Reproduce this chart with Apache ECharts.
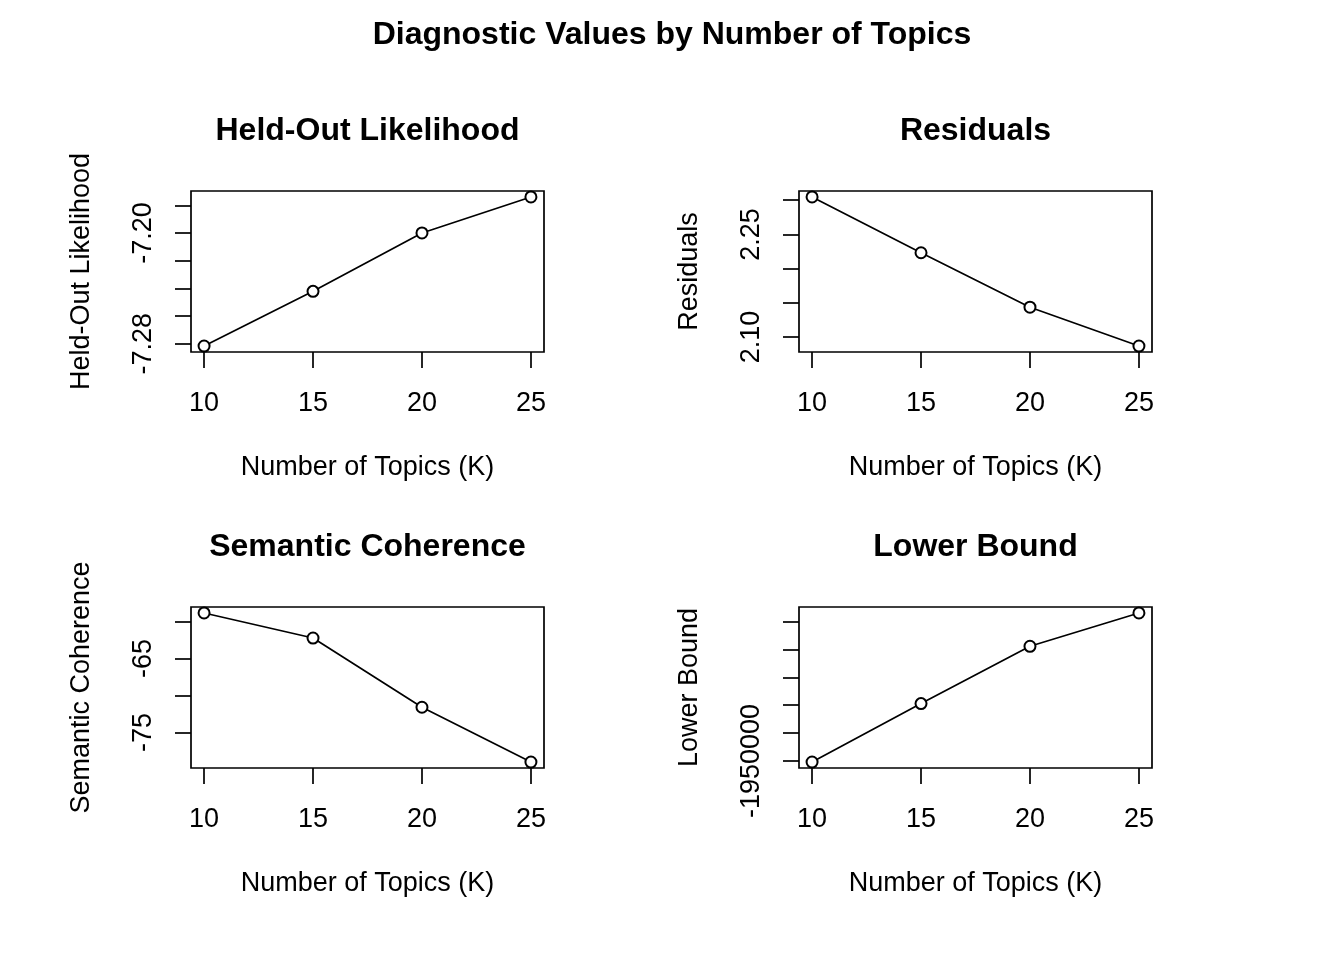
<!DOCTYPE html>
<html>
<head>
<meta charset="utf-8">
<script src="https://cdn.jsdelivr.net/npm/echarts@6/dist/echarts.min.js"></script>
<style>
html,body{margin:0;padding:0;background:#fff;}
#chart{width:1344px;height:960px;}
</style>
</head>
<body>
<div id="chart"></div>
<script>
// ---- data ----
const mainTitle = 'Diagnostic Values by Number of Topics';
const panelTitles = ['Held-Out Likelihood', 'Residuals', 'Semantic Coherence', 'Lower Bound'];
const xTitle = 'Number of Topics (K)';
const topicsK = [10, 15, 20, 25];
const heldout = [-7.2817, -7.2422, -7.2000, -7.1740];
const residuals = [2.3048, 2.2232, 2.1436, 2.0868];
const semcoh = [-58.88, -62.26, -71.59, -78.97];
const lbound = [-1950036, -1947943, -1945889, -1944695];
// tick marks and labelled ticks per panel
const heldoutTicks = [-7.28, -7.26, -7.24, -7.22, -7.20, -7.18];
const heldoutLabels = [-7.28, -7.20];
const residualsTicks = [2.10, 2.15, 2.20, 2.25, 2.30];
const residualsLabels = [2.10, 2.25];
const semcohTicks = [-75, -70, -65, -60];
const semcohLabels = [-75, -65];
const lboundTicks = [-1950000, -1949000, -1948000, -1947000, -1946000, -1945000];
const lboundLabels = [-1950000];
const xTicks = [10, 15, 20, 25];

// ---- layout / style ----
const FONT = "'Liberation Sans', Arial, sans-serif";
const BASE = 27;
const LW = 1.7;
const boxes = [
  {left: 191, top: 191, width: 353, height: 161},
  {left: 799, top: 191, width: 353, height: 161},
  {left: 191, top: 607, width: 353, height: 161},
  {left: 799, top: 607, width: 353, height: 161}
];
const panels = [
  {vals: heldout, ticks: heldoutTicks, labels: heldoutLabels, dec: 2},
  {vals: residuals, ticks: residualsTicks, labels: residualsLabels, dec: 2},
  {vals: semcoh, ticks: semcohTicks, labels: semcohLabels, dec: 0},
  {vals: lbound, ticks: lboundTicks, labels: lboundLabels, dec: 0}
];

function rExtend(arr) {
  const lo = Math.min.apply(null, arr), hi = Math.max.apply(null, arr);
  const d = (hi - lo) * 0.04;
  return [lo - d, hi + d];
}

const xr = rExtend(topicsK);
const grids = [], xAxes = [], yAxes = [], series = [];
const titles = [{
  text: mainTitle, left: 'center', top: 19, padding: 0,
  textStyle: {fontFamily: FONT, fontSize: 32, fontWeight: 'bold', color: '#000'}
}];

panels.forEach((p, i) => {
  const b = boxes[i];
  grids.push({left: b.left, top: b.top, width: b.width, height: b.height,
    show: true, borderColor: '#000', borderWidth: LW, backgroundColor: 'transparent', containLabel: false});
  titles.push({
    text: panelTitles[i], left: b.left + b.width / 2, textAlign: 'center',
    top: b.top - 76, padding: 0,
    textStyle: {fontFamily: FONT, fontSize: 32, fontWeight: 'bold', color: '#000'}
  });
  xAxes.push({
    type: 'value', gridIndex: i, min: xr[0], max: xr[1],
    name: xTitle, nameLocation: 'middle', nameGap: 102,
    nameTextStyle: {fontFamily: FONT, fontSize: BASE, color: '#000'},
    axisLine: {show: false, onZero: false},
    splitLine: {show: false},
    axisTick: {show: true, inside: false, length: 16, customValues: xTicks,
      lineStyle: {color: '#000', width: LW}},
    axisLabel: {show: true, customValues: xTicks, margin: 38,
      fontFamily: FONT, fontSize: BASE, color: '#000'}
  });
  const yr = rExtend(p.vals);
  yAxes.push({
    type: 'value', gridIndex: i, min: yr[0], max: yr[1], scale: true,
    name: panelTitles[i], nameLocation: 'middle', nameGap: 96, nameRotate: 90,
    nameTextStyle: {fontFamily: FONT, fontSize: BASE, color: '#000'},
    axisLine: {show: false, onZero: false},
    splitLine: {show: false},
    axisTick: {show: true, inside: false, length: 16, customValues: p.ticks,
      lineStyle: {color: '#000', width: LW}},
    axisLabel: {show: true, customValues: p.labels, margin: 34, rotate: 90,
      fontFamily: FONT, fontSize: BASE, color: '#000',
      formatter: (v) => Number(v).toFixed(p.dec)}
  });
  series.push({
    type: 'line', xAxisIndex: i, yAxisIndex: i,
    data: topicsK.map((k, j) => [k, p.vals[j]]),
    symbol: 'emptyCircle', symbolSize: 11,
    lineStyle: {color: '#000', width: LW},
    itemStyle: {color: '#000', borderColor: '#000', borderWidth: LW},
    animation: false, silent: true
  });
});

const chart = echarts.init(document.getElementById('chart'), null, {renderer: 'canvas'});
chart.setOption({
  backgroundColor: '#fff',
  animation: false,
  title: titles,
  grid: grids,
  xAxis: xAxes,
  yAxis: yAxes,
  series: series
});
</script>
</body>
</html>
